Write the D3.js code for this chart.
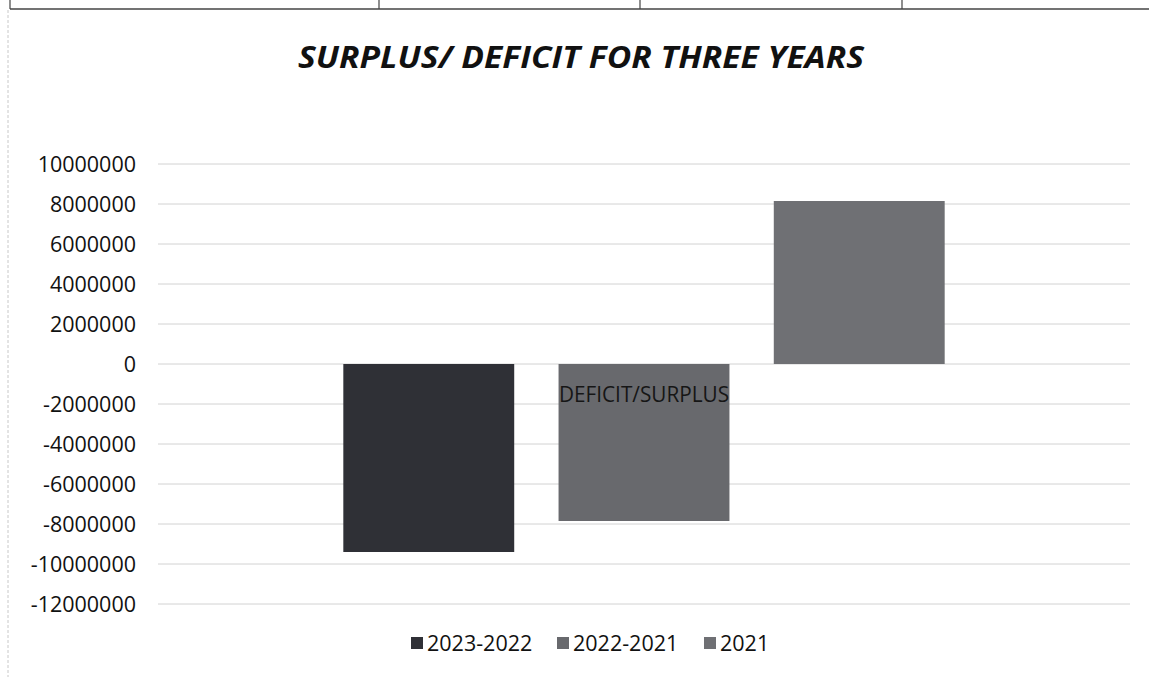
<!DOCTYPE html>
<html>
<head>
<meta charset="utf-8">
<script src="https://cdn.jsdelivr.net/npm/d3@7"></script>
<style>
  html, body { margin: 0; padding: 0; background: #fff; }
  svg { display: block; }
</style>
</head>
<body>
<svg id="chart" width="1149" height="677"></svg>
<script>
// Chart data
const categories = ["DEFICIT/SURPLUS"];
const seriesNames = ["2023-2022", "2022-2021", "2021"];
const seriesValues = [-9400000, -7850000, 8150000];
const yTicks = [10000000, 8000000, 6000000, 4000000, 2000000, 0,
  -2000000, -4000000, -6000000, -8000000, -10000000, -12000000];
const seriesColors = ["#2f3036", "#68696d", "#6f7074"];
const titleText = "SURPLUS/ DEFICIT FOR THREE YEARS";

const svg = d3.select("#chart");
const W = 1149, H = 677;
const plot = { left: 158, right: 1130, top: 164, bottom: 604 };
const font = "'Open Sans', 'DejaVu Sans', sans-serif";
const ink = "#111";

// Table rule above the chart
const frame = svg.append("g").attr("stroke", "#444");
frame.append("line").attr("x1", 10).attr("x2", W).attr("y1", 9).attr("y2", 9).attr("stroke-width", 1.6);
[10, 379, 640, 902].forEach(x => {
  frame.append("line").attr("x1", x).attr("x2", x).attr("y1", 0).attr("y2", 9).attr("stroke-width", 1.2);
});
svg.append("line").attr("x1", 8).attr("x2", 8).attr("y1", 10).attr("y2", H)
  .attr("stroke", "#c8c8c8").attr("stroke-width", 1).attr("stroke-dasharray", "3,2");

// Scales
const y = d3.scaleLinear().domain([-12000000, 10000000]).range([plot.bottom, plot.top]);
const x0 = d3.scaleBand().domain(categories).range([plot.left, plot.right]).padding(0);
const x1 = d3.scaleBand().domain(seriesNames).range([0, x0.bandwidth()])
  .paddingInner(0.206).paddingOuter(0.861);

// Gridlines
svg.append("g")
  .selectAll("line")
  .data(yTicks)
  .join("line")
  .attr("x1", plot.left).attr("x2", plot.right)
  .attr("y1", d => y(d)).attr("y2", d => y(d))
  .attr("stroke", "#d2d2d2").attr("stroke-width", 1);

// Y axis labels
const yAxis = d3.axisLeft(y).tickValues(yTicks).tickSize(0).tickPadding(0).tickFormat(d => String(d));
const yg = svg.append("g").attr("transform", `translate(${plot.left - 22},0)`).call(yAxis);
yg.select(".domain").remove();
yg.selectAll("text")
  .attr("font-family", font).attr("font-size", 21.5).attr("fill", ink)
  .attr("dy", "0.35em");

// Bars
const barG = svg.append("g");
categories.forEach(cat => {
  barG.selectAll("rect")
    .data(seriesNames.map((s, i) => ({ s, v: seriesValues[i], c: seriesColors[i] })))
    .join("rect")
    .attr("x", d => x0(cat) + x1(d.s))
    .attr("width", x1.bandwidth())
    .attr("y", d => y(Math.max(0, d.v)))
    .attr("height", d => Math.abs(y(d.v) - y(0)))
    .attr("fill", d => d.c);
});

// Category axis label (sits just below the zero line)
const xAxis = d3.axisBottom(x0).tickSize(0).tickPadding(0);
const xg = svg.append("g").attr("transform", `translate(0,${y(0) + 30})`).call(xAxis);
xg.select(".domain").remove();
xg.selectAll("text")
  .attr("font-family", font).attr("font-size", 22).attr("fill", "#161616")
  .attr("dy", "0.35em")
  .attr("textLength", 170).attr("lengthAdjust", "spacingAndGlyphs");

// Title
svg.append("text")
  .attr("x", 581).attr("y", 60)
  .attr("text-anchor", "middle").attr("dominant-baseline", "middle")
  .attr("font-family", font).attr("font-weight", "bold").attr("font-style", "italic")
  .attr("font-size", 30).attr("fill", ink)
  .attr("textLength", 566).attr("lengthAdjust", "spacingAndGlyphs")
  .text(titleText);

// Legend
const legendX = [411, 557, 704];
const legend = svg.append("g");
seriesNames.forEach((s, i) => {
  legend.append("rect")
    .attr("x", legendX[i]).attr("y", 637).attr("width", 12).attr("height", 12)
    .attr("fill", seriesColors[i]);
  legend.append("text")
    .attr("x", legendX[i] + 16).attr("y", 643).attr("dy", "0.35em")
    .attr("font-family", font).attr("font-size", 21.5).attr("fill", ink)
    .text(s);
});
</script>
</body>
</html>
